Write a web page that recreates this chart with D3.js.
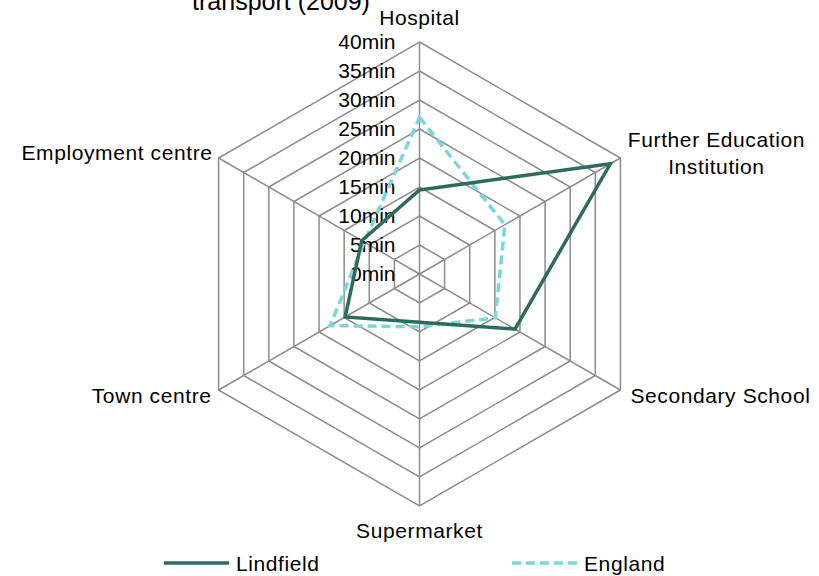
<html>
<script src='https://d3js.org/d3.v7.min.js'></script>
<style>
    body { margin: 0; background: #fff; }
    text { font-family: 'Liberation Sans', Arial, sans-serif; fill: #000; }
    .grid { fill: none; stroke: #8c8c8c; stroke-width: 1.5; }
    .cat { font-size: 21px; letter-spacing: 0.6px; }
</style>

<body onload='init()'>
    <svg width=819 height=576></svg>
    <script>
        // data
        const categories = ['Hospital', 'Further Education Institution', 'Secondary School', 'Supermarket', 'Town centre', 'Employment centre'];
        const lindfield = [14.5, 38, 19, 8.3, 14.8, 11.5];
        const england = [27, 17, 15.1, 9.1, 17.8, 11];
        const tickValues = [0, 5, 10, 15, 20, 25, 30, 35, 40];
        const tickLabels = ['0min', '5min', '10min', '15min', '20min', '25min', '30min', '35min', '40min'];
        const seriesNames = ['Lindfield', 'England'];

        function init() {
            const svg = d3.select('svg');
            const cx = 419.5, cy = 274;
            const r = d3.scaleLinear().domain([0, 40]).range([0, 232]);
            const angle = i => i * 2 * Math.PI / categories.length;

            const g = svg.append('g').attr('transform', `translate(${cx},${cy})`);

            // rings (hexagons)
            const ring = d3.lineRadial()
                .angle((d, i) => angle(i))
                .radius(d => r(d))
                .curve(d3.curveLinearClosed);
            g.selectAll('.ring')
                .data(tickValues.filter(t => t > 0))
                .enter()
                .append('path')
                .attr('class', 'grid')
                .attr('d', t => ring(categories.map(() => t)));

            // spokes
            g.selectAll('.spoke')
                .data(categories)
                .enter()
                .append('line')
                .attr('class', 'grid')
                .attr('x1', 0).attr('y1', 0)
                .attr('x2', (d, i) => r(40) * Math.sin(angle(i)))
                .attr('y2', (d, i) => -r(40) * Math.cos(angle(i)));

            // tick labels
            g.selectAll('.tick')
                .data(tickValues)
                .enter()
                .append('text')
                .attr('x', -24)
                .attr('y', t => -r(t))
                .attr('dy', '0.35em')
                .attr('text-anchor', 'end')
                .style('font-size', '21px')
                .text((t, i) => tickLabels[i]);

            // series
            const line = d3.lineRadial()
                .angle((d, i) => angle(i))
                .radius(d => r(d))
                .curve(d3.curveLinearClosed);
            g.append('path')
                .attr('d', line(england))
                .attr('fill', 'none')
                .attr('stroke', '#7ad6dc')
                .attr('stroke-width', 3.5)
                .attr('stroke-dasharray', '9,5');
            g.append('path')
                .attr('d', line(lindfield))
                .attr('fill', 'none')
                .attr('stroke', '#2f6b5d')
                .attr('stroke-width', 3.5)
                .attr('stroke-linejoin', 'miter');

            // category labels
            const place = [
                { dx: 0, dy: -17, anchor: 'middle' },
                { dx: 96, dy: -11, anchor: 'middle' },
                { dx: 10, dy: 13, anchor: 'start' },
                { dx: 0, dy: 32, anchor: 'middle' },
                { dx: -7, dy: 13, anchor: 'end' },
                { dx: -6, dy: 2, anchor: 'end' }
            ];
            categories.forEach((c, i) => {
                const vx = r(40) * Math.sin(angle(i)), vy = -r(40) * Math.cos(angle(i));
                const t = g.append('text')
                    .attr('class', 'cat')
                    .attr('x', vx + place[i].dx)
                    .attr('y', vy + place[i].dy)
                    .attr('text-anchor', place[i].anchor);
                if (c === 'Further Education Institution') {
                    t.append('tspan').attr('x', vx + place[i].dx).text('Further Education');
                    t.append('tspan').attr('x', vx + place[i].dx).attr('dy', 26.5).text('Institution');
                } else {
                    t.text(c);
                }
            });

            // title, cut off at the top as in the original
            svg.append('text')
                .attr('x', 281)
                .attr('y', 10)
                .attr('text-anchor', 'middle')
                .style('font-size', '25px')
                .text('transport (2009)');

            // legend
            const legend = svg.append('g');
            const legX = [164, 512];
            const styles = [
                { stroke: '#2f6b5d', dash: null },
                { stroke: '#7ad6dc', dash: '9,5' }
            ];
            seriesNames.forEach((s, i) => {
                legend.append('line')
                    .attr('x1', legX[i]).attr('x2', legX[i] + 65)
                    .attr('y1', 563).attr('y2', 563)
                    .attr('stroke', styles[i].stroke)
                    .attr('stroke-width', 3.5)
                    .attr('stroke-dasharray', styles[i].dash);
                legend.append('text')
                    .attr('class', 'cat')
                    .attr('x', legX[i] + 72)
                    .attr('y', 571)
                    .text(s);
            });
        }
    </script>
</body>

</html>
